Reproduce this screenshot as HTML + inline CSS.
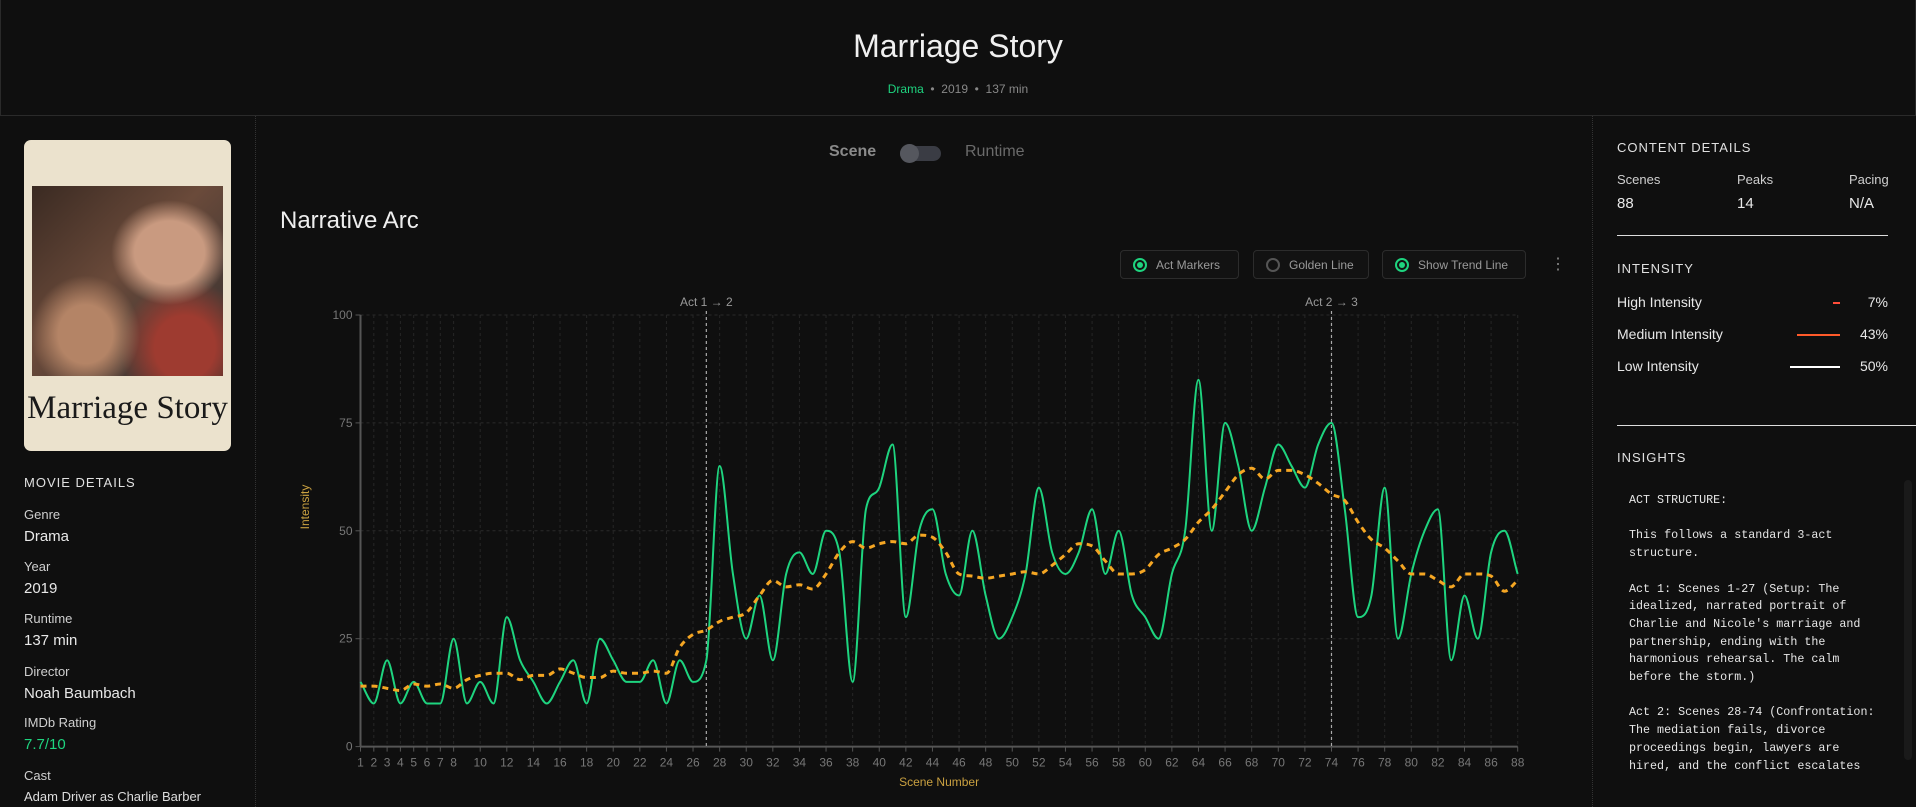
<!DOCTYPE html>
<html><head><meta charset="utf-8">
<style>
*{box-sizing:border-box;margin:0;padding:0}
body{width:1916px;height:807px;background:#0f0f0f;color:#e6e6e6;font-family:"Liberation Sans",sans-serif;overflow:hidden;position:relative}
.abs{position:absolute;white-space:nowrap}
.lbl{font-size:13px;color:#cfcfcf}
.val{font-size:15px;color:#e8e8e8}
.sec{font-size:13px;letter-spacing:1px;color:#e0e0e0}
.btn{position:absolute;top:250px;height:29px;border:1px solid #2c2c2c;border-radius:4px;background:#121212;font-size:12px;color:#9a9a9a;display:flex;align-items:center;padding-left:12px}
.rad{width:14px;height:14px;border-radius:50%;border:2px solid #1ed47f;margin-right:9px;position:relative}
.rad.on::after{content:"";position:absolute;left:2px;top:2px;width:6px;height:6px;border-radius:50%;background:#1ed47f}
.rad.off{border-color:#555}
pre.abs{font-family:"Liberation Mono",monospace;font-size:11.7px;line-height:17.7px;color:#e6e6e6;white-space:pre}
</style></head><body>
<div class="abs" style="left:0;top:0;width:1916px;height:116px;border:1px solid #2a2a2a;border-top:none"></div>
<div class="abs" style="left:0;width:1916px;top:28px;text-align:center;font-size:32px;font-weight:300;color:#f0f0f0">Marriage Story</div>
<div class="abs" style="left:0;width:1916px;top:82px;text-align:center;font-size:12px;color:#888"><span style="color:#1ed47f">Drama</span> &nbsp;•&nbsp; 2019 &nbsp;•&nbsp; 137 min</div>
<div class="abs" style="left:255px;top:116px;height:691px;border-left:1px dotted #333"></div>
<div class="abs" style="left:1592px;top:116px;height:691px;border-left:1px dotted #333"></div>

<div class="abs" style="left:24px;top:140px;width:207px;height:311px;border-radius:7px;background:#ebe2cd;overflow:hidden">
  <div style="position:absolute;left:8px;top:46px;width:191px;height:190px;background:radial-gradient(ellipse at 72% 35%,#c99a80 0 18%,transparent 30%),radial-gradient(ellipse at 28% 78%,#b48466 0 14%,transparent 28%),radial-gradient(ellipse at 80% 85%,#9e3b30 0 14%,transparent 30%),linear-gradient(135deg,#3a2a22,#6a4a3a 45%,#4e3d36 70%,#3a302c)"></div>
  <div style="position:absolute;left:0;width:207px;top:250px;text-align:center;font-family:'Liberation Serif',serif;font-size:33px;color:#1a1a1a">Marriage Story</div>
</div>
<div class="abs sec" style="left:24px;top:475px">MOVIE DETAILS</div>
<div class="abs lbl" style="left:24px;top:507px">Genre</div>
<div class="abs val" style="left:24px;top:528px">Drama</div>
<div class="abs lbl" style="left:24px;top:559px">Year</div>
<div class="abs val" style="left:24px;top:580px">2019</div>
<div class="abs lbl" style="left:24px;top:611px">Runtime</div>
<div class="abs val" style="left:24px;top:632px">137 min</div>
<div class="abs lbl" style="left:24px;top:664px">Director</div>
<div class="abs val" style="left:24px;top:685px">Noah Baumbach</div>
<div class="abs lbl" style="left:24px;top:715px">IMDb Rating</div>
<div class="abs val" style="left:24px;top:736px;color:#1ed47f">7.7/10</div>
<div class="abs lbl" style="left:24px;top:768px">Cast</div>
<div class="abs" style="left:24px;top:789px;font-size:13px;color:#ddd">Adam Driver as Charlie Barber</div>

<div class="abs" style="left:829px;top:143px;font-size:16px;color:#8a8a8a;font-weight:bold">Scene</div>
<div class="abs" style="left:900px;top:146px;width:41px;height:15px;border-radius:8px;background:#3a3c44"><div style="position:absolute;left:0;top:-2px;width:19px;height:19px;border-radius:50%;background:#55575e"></div></div>
<div class="abs" style="left:965px;top:143px;font-size:16px;color:#6a6a6a">Runtime</div>
<div class="abs" style="left:280px;top:207px;font-size:24px;font-weight:300;color:#eee">Narrative Arc</div>
<div class="btn" style="left:1120px;width:119px"><span class="rad on"></span>Act Markers</div>
<div class="btn" style="left:1253px;width:116px"><span class="rad off"></span>Golden Line</div>
<div class="btn" style="left:1382px;width:144px"><span class="rad on"></span>Show Trend Line</div>
<div class="abs" style="left:1550px;top:254px;font-size:16px;color:#888">⋮</div>

<svg class="abs" style="left:0;top:0" width="1590" height="807" id="chart"></svg>

<div class="abs sec" style="left:1617px;top:140px">CONTENT DETAILS</div>
<div class="abs lbl" style="left:1617px;top:172px">Scenes</div>
<div class="abs val" style="left:1617px;top:195px">88</div>
<div class="abs lbl" style="left:1737px;top:172px">Peaks</div>
<div class="abs val" style="left:1737px;top:195px">14</div>
<div class="abs lbl" style="left:1849px;top:172px">Pacing</div>
<div class="abs val" style="left:1849px;top:195px">N/A</div>
<div class="abs" style="left:1617px;top:235px;width:271px;border-top:1px solid #ddd"></div>
<div class="abs sec" style="left:1617px;top:261px">INTENSITY</div>
<div class="abs val" style="left:1617px;top:294px;font-size:14px">High Intensity</div>
<div class="abs" style="left:1833px;top:302px;width:7px;height:2px;background:#ff4d3a"></div>
<div class="abs val" style="left:1838px;width:50px;text-align:right;top:294px;font-size:14px">7%</div>
<div class="abs val" style="left:1617px;top:326px;font-size:14px">Medium Intensity</div>
<div class="abs" style="left:1797px;top:334px;width:43px;height:2px;background:#ff5a2a"></div>
<div class="abs val" style="left:1838px;width:50px;text-align:right;top:326px;font-size:14px">43%</div>
<div class="abs val" style="left:1617px;top:358px;font-size:14px">Low Intensity</div>
<div class="abs" style="left:1790px;top:366px;width:50px;height:2px;background:#fff"></div>
<div class="abs val" style="left:1838px;width:50px;text-align:right;top:358px;font-size:14px">50%</div>
<div class="abs" style="left:1617px;top:425px;width:299px;border-top:1px solid #ddd"></div>
<div class="abs sec" style="left:1617px;top:450px">INSIGHTS</div>
<pre class="abs" style="left:1629px;top:492px">ACT STRUCTURE:

This follows a standard 3-act
structure.

Act 1: Scenes 1-27 (Setup: The
idealized, narrated portrait of
Charlie and Nicole's marriage and
partnership, ending with the
harmonious rehearsal. The calm
before the storm.)

Act 2: Scenes 28-74 (Confrontation:
The mediation fails, divorce
proceedings begin, lawyers are
hired, and the conflict escalates</pre>
<div class="abs" style="left:1904px;top:480px;width:8px;height:280px;background:#1a1a1a;border-radius:4px"></div>

<script>
const scenes = Array.from({length:88},(_,i)=>i+1);
const intensity = [15,10,20,10,15,10,10,25,10,15,10,30,20,15,10,15,20,10,25,20,15,15,20,10,20,15,20,65,40,25,35,20,40,45,40,50,45,15,55,60,70,30,50,55,40,35,50,35,25,30,40,60,45,40,45,55,40,50,35,30,25,40,50,85,50,75,65,50,60,70,65,60,70,75,55,30,35,60,25,40,50,55,20,35,25,45,50,40];
const trend = [14,14,13.5,13,14.5,14,14.5,13.5,15.5,16.5,17,17,15.5,16.5,16.5,18,17,16,16,17.5,17,17,17.5,17,23,26,27,29,30,31,35,38.5,37,37.5,36.5,40,45,47.5,46,47,47.5,47,49,48.5,45,40,39.5,39,39.5,40,40.5,40,42,44.5,47,46.5,43,40,40,41,44.5,46,48,52,55,59,63,64.5,62,64,64,63,61,58.5,57,52,48,46,43,40,40,38.5,37,40,40,39.5,36,38.5];
const xTickLabels = [1,2,3,4,5,6,7,8,10,12,14,16,18,20,22,24,26,28,30,32,34,36,38,40,42,44,46,48,50,52,54,56,58,60,62,64,66,68,70,72,74,76,78,80,82,84,86,88];
const yTicks = [0,25,50,75,100];
const actBreaks = [27,74];
const actLabels = ["Act 1 → 2","Act 2 → 3"];

const svg=document.getElementById('chart');
const NS='http://www.w3.org/2000/svg';
const X0=360.5,X1=1517.7,Y0=746.6,Y1=315;
const xs=s=>X0+(s-1)/(87)*(X1-X0);
const ys=v=>Y0-v/100*(Y0-Y1);
function mk(tag,attrs,parent){const e=document.createElementNS(NS,tag);for(const k in attrs)e.setAttribute(k,attrs[k]);(parent||svg).appendChild(e);return e;}

yTicks.forEach(t=>{
  const g=mk('line',{x1:X0,x2:X1,y1:ys(t),y2:ys(t),stroke:t===0?'#555':'#2a2a2a','stroke-width':t===0?2:1,'stroke-dasharray':t===0?'':'3 3'});
  
  
  mk('line',{x1:X0-5,x2:X0,y1:ys(t),y2:ys(t),stroke:'#555'});
  const tx=mk('text',{x:X0-8,y:ys(t)+4,'text-anchor':'end','font-size':12,fill:'#777','font-family':'Liberation Sans'});
  tx.textContent=t;
  
  
});
xTickLabels.forEach(s=>{
  const g=mk('line',{x1:xs(s),x2:xs(s),y1:Y1,y2:Y0,stroke:'#262626','stroke-dasharray':'3 3'});
  
  
  mk('line',{x1:xs(s),x2:xs(s),y1:Y0,y2:Y0+5,stroke:'#555'});
  const tx=mk('text',{x:xs(s),y:Y0+20,'text-anchor':'middle','font-size':12,fill:'#777','font-family':'Liberation Sans'});
  tx.textContent=s;
  
  
});
mk('line',{x1:X0,x2:X0,y1:Y1,y2:Y0,stroke:'#555','stroke-width':2});
actBreaks.forEach((b,i)=>{
  const l=mk('line',{x1:xs(b),x2:xs(b),y1:Y1-4,y2:Y0,stroke:'#aaa','stroke-dasharray':'3 3','stroke-width':1.2});
  
  
  const t=mk('text',{x:xs(b),y:Y1-9,'text-anchor':'middle','font-size':12,fill:'#999','font-family':'Liberation Sans'});
  t.textContent=actLabels[i];
  
  
});
function path(vals){
  const p=vals.map((v,i)=>[xs(scenes[i]),ys(v)]);
  const n=p.length,h=p[1][0]-p[0][0];
  const d=[];for(let i=0;i<n-1;i++)d.push((p[i+1][1]-p[i][1])/h);
  const m=new Array(n);
  m[0]=d[0];m[n-1]=d[n-2];
  for(let i=1;i<n-1;i++){m[i]=(d[i-1]*d[i]<=0)?0:(d[i-1]+d[i])/2;
    const s=Math.min(Math.abs(d[i-1]),Math.abs(d[i]))*3; if(Math.abs(m[i])>s)m[i]=Math.sign(m[i])*s;}
  let str='M'+p[0][0]+','+p[0][1];
  for(let i=0;i<n-1;i++){
    const a=p[i],b=p[i+1];
    str+=' C'+(a[0]+h/3)+','+(a[1]+m[i]*h/3)+' '+(b[0]-h/3)+','+(b[1]-m[i+1]*h/3)+' '+b[0]+','+b[1];
  }
  return str;
}
const il=mk('path',{d:path(intensity),fill:'none',stroke:'#1ed47f','stroke-width':2});


const tl=mk('path',{d:path(trend),fill:'none',stroke:'#f5a623','stroke-width':3,'stroke-dasharray':'6 5'});


const xt=mk('text',{x:(X0+X1)/2,y:786,'text-anchor':'middle','font-size':12,fill:'#c9a040','font-family':'Liberation Sans'});
xt.textContent='Scene Number';


const yt=mk('text',{x:309,y:507,'text-anchor':'middle','font-size':12,fill:'#c9a040','font-family':'Liberation Sans',transform:'rotate(-90 309 507)'});
yt.textContent='Intensity';


</script>
</body></html>
